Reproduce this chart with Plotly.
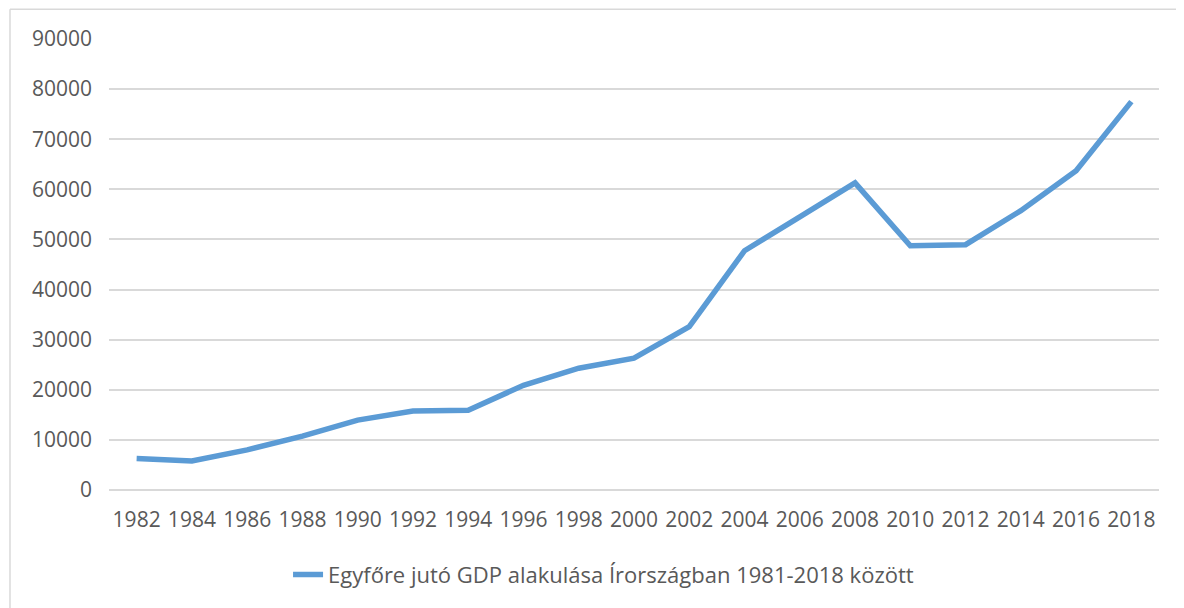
import plotly.graph_objects as go

years = [str(y) for y in range(1982, 2019, 2)]
gdp = [6300, 5800, 8000, 10750, 13950, 15750, 15900, 20900, 24300, 26300,
       32600, 47750, 54500, 61300, 48750, 48950, 55750, 63700, 77500]
series_name = "Egyfőre jutó GDP alakulása Írországban 1981-2018 között"

FONT = "Open Sans"
GRAY = "#595959"
GRID = "#d9d9d9"

fig = go.Figure()

fig.add_trace(
    go.Scatter(
        x=years,
        y=gdp,
        mode="lines",
        line={"color": "#5b9bd5", "width": 5.5},
        name=series_name,
    )
)

# chart frame (Excel-style outer border): only left and top edges are in view
frame = {"color": GRID, "width": 1.5}
fig.add_shape(type="line", xref="paper", yref="paper",
              x0=-0.0943, x1=-0.0943, y0=-0.3, y1=1.066, line=frame)
fig.add_shape(type="line", xref="paper", yref="paper",
              x0=-0.0943, x1=1.03, y0=1.066, y1=1.066, line=frame)

fig.update_layout(
    width=1176,
    height=600,
    margin={"l": 101, "r": 25, "t": 31, "b": 115},
    plot_bgcolor="white",
    paper_bgcolor="white",
    font={"family": FONT, "size": 21, "color": GRAY},
    showlegend=True,
    legend={
        "orientation": "h",
        "x": 0.471, "xanchor": "center",
        "y": -0.188, "yanchor": "middle",
        "font": {"size": 22, "color": GRAY},
    },
    xaxis={
        "type": "category",
        "range": [-0.5, len(years) - 0.5],
        "showgrid": False,
        "showline": False,
        "ticks": "",
        "ticklabelstandoff": 15,
    },
    yaxis={
        "range": [0, 90000],
        "dtick": 10000,
        "gridcolor": GRID,
        "gridwidth": 1.5,
        "zeroline": True,
        "zerolinecolor": GRID,
        "zerolinewidth": 1.5,
        "showline": False,
        "ticks": "",
        "ticklabelstandoff": 16,
        "tickformat": "d",
    },
)

fig.write_html("out.html", config={"displayModeBar": False})
